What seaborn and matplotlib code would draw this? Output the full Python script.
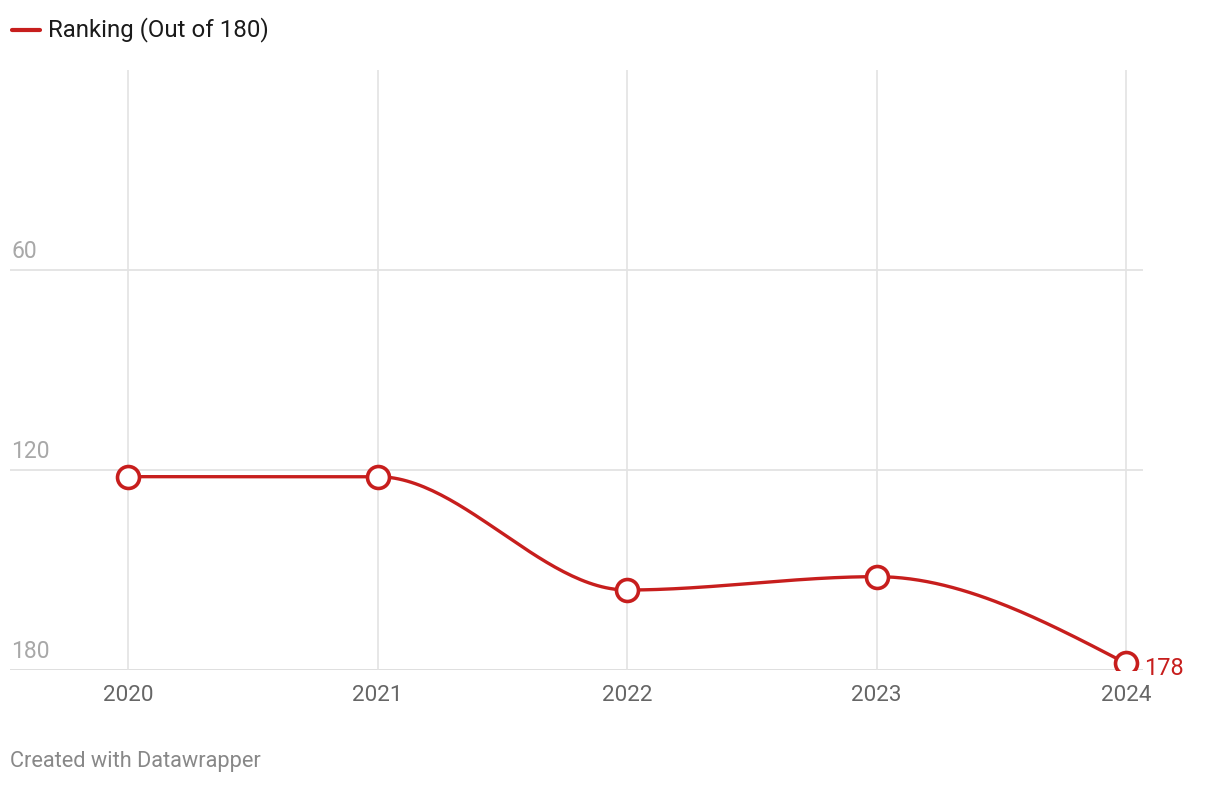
import numpy as np
import pandas as pd
import matplotlib
matplotlib.use("Agg")
import matplotlib.pyplot as plt
import seaborn as sns

# ---- data ----
years = [2020, 2021, 2022, 2023, 2024]
ranking = [122, 122, 156, 152, 178]
y_ticks = [60, 120, 180]
series_label = "Ranking (Out of 180)"
footer = "Created with Datawrapper"

RED = "#c71e1d"

sns.set_theme(style="white")
plt.rcParams["font.family"] = ["Roboto", "DejaVu Sans"]


def monotone_x(x, y, n=60):
    """d3 curveMonotoneX-style rendering of a line through the points."""
    x = np.asarray(x, float)
    y = np.asarray(y, float)
    h = np.diff(x)
    s = np.diff(y) / h
    m = np.zeros_like(y)
    for i in range(1, len(x) - 1):
        h0, h1 = h[i - 1], h[i]
        s0, s1 = s[i - 1], s[i]
        p = (s0 * h1 + s1 * h0) / (h0 + h1)
        m[i] = (np.sign(s0) + np.sign(s1)) * min(abs(s0), abs(s1), 0.5 * abs(p))
    m[0] = (3 * s[0] - m[1]) / 2
    m[-1] = (3 * s[-1] - m[-2]) / 2
    xs, ys = [], []
    for i in range(len(x) - 1):
        t = np.linspace(0, 1, n)
        hh = h[i]
        h00 = 2 * t**3 - 3 * t**2 + 1
        h10 = t**3 - 2 * t**2 + t
        h01 = -2 * t**3 + 3 * t**2
        h11 = t**3 - t**2
        xs.append(x[i] + t * hh)
        ys.append(h00 * y[i] + h10 * hh * m[i] + h01 * y[i + 1] + h11 * hh * m[i + 1])
    return np.concatenate(xs), np.concatenate(ys)


df = pd.DataFrame({"year": years, "rank": ranking})
cx, cy = monotone_x(df["year"], df["rank"])
curve = pd.DataFrame({"year": cx, "rank": cy})

fig = plt.figure(figsize=(12.2, 7.86), dpi=100)
ax = fig.add_axes([10 / 1220, 1 - 670 / 786, (1143 - 10) / 1220, (670 - 70) / 786])

sns.lineplot(data=curve, x="year", y="rank", ax=ax, color=RED, linewidth=2.4,
             sort=False, zorder=3, legend=False)
sns.scatterplot(data=df, x="year", y="rank", ax=ax, s=250, color="white",
                edgecolor=RED, linewidth=2.6, zorder=4, legend=False)

ax.set_xlim(2019.527, 2024.068)
ax.set_ylim(180, 0)

# gridlines
for yt in y_ticks:
    ax.axhline(yt, color="#e0e0e0" if yt != 180 else "#d9d9d9", lw=1.2, zorder=1)
for yr in years:
    ax.axvline(yr, color="#e3e3e3", lw=1.2, zorder=1)

for s in ax.spines.values():
    s.set_visible(False)

ax.set_yticks([])
ax.set_xticks(years)
ax.set_xticklabels([str(y) for y in years], fontsize=16.2, color="#666666")
ax.tick_params(axis="x", length=0, pad=11)
ax.set_xlabel("")
ax.set_ylabel("")

# y tick labels above gridlines
for yt in y_ticks:
    ax.annotate(str(yt), xy=(0, yt), xycoords=("axes fraction", "data"),
                xytext=(1, 5), textcoords="offset points", ha="left", va="bottom",
                fontsize=16.5, color="#a8a8a8")

# end label
ax.annotate(str(ranking[-1]), xy=(years[-1], ranking[-1]), xytext=(13, -4),
            textcoords="offset points", ha="left", va="center",
            fontsize=17, color=RED)

# legend
fig.add_artist(plt.Line2D([12 / 1220, 40 / 1220], [1 - 30 / 786] * 2,
                          color=RED, lw=3, solid_capstyle="round"))
fig.text(48 / 1220, 1 - 30 / 786, series_label, ha="left", va="center",
         fontsize=17.3, color="#1a1a1a")

# footer
fig.text(10 / 1220, 1 - 762 / 786, footer, ha="left", va="center",
         fontsize=15.7, color="#888888")

fig.savefig("out.png", dpi=100, facecolor="white")
